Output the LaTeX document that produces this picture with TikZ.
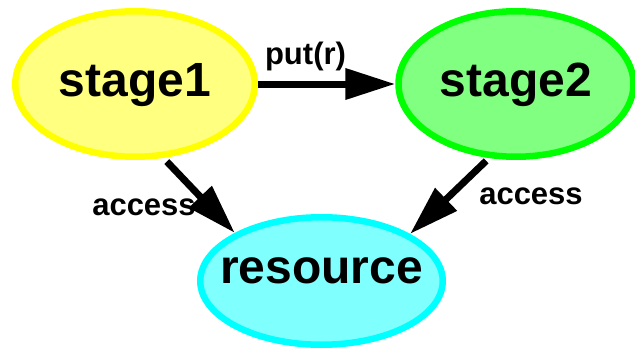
\documentclass[tikz,border=0pt]{standalone}
\usepackage{fontspec}
\setmainfont{Liberation Sans}
\usetikzlibrary{shapes.geometric,arrows.meta}
\definecolor{yfill}{RGB}{255,255,128}
\definecolor{yline}{RGB}{255,255,0}
\definecolor{gfill}{RGB}{128,255,128}
\definecolor{gline}{RGB}{0,255,0}
\definecolor{cfill}{RGB}{128,255,255}
\definecolor{cline}{RGB}{0,255,255}
\begin{document}
\begin{tikzpicture}[x=1pt,y=1pt,
  statenode/.style={ellipse, line width=6.5pt, inner sep=0pt,
    font=\fontsize{48}{48}\selectfont\bfseries, text height=34pt, text depth=10pt},
  edgelabel/.style={anchor=base, inner sep=0pt, font=\fontsize{31}{31}\selectfont\bfseries},
  arr/.style={line width=7pt, -{Triangle[length=50pt,width=30pt]}}]
\useasboundingbox (0,0) rectangle (635,349);
\node[statenode, draw=yline, fill=yfill, minimum width=239.5pt, minimum height=145.5pt] (s1) at (135,265) {\makebox[0pt]{stage1}};
\node[statenode, draw=gline, fill=gfill, minimum width=235pt, minimum height=145.5pt] (s2) at (516,265) {\makebox[0pt]{stage2}};
\node[statenode, draw=cline, fill=cfill, minimum width=242.5pt, minimum height=127.5pt] (res) at (321.5,68) {\makebox[0pt]{\raisebox{10pt}{resource}}};
\draw[arr] (s1) -- (s2);
\draw[arr, shorten <=5pt] (s1.-69) -- (res.151.7);
\draw[arr, shorten <=4pt] (s2.-110.4) -- (res.28);
\node[edgelabel] (lput) at (305.5,284) {put(r)};
\node[edgelabel] (lacc1) at (144,134) {access};
\node[edgelabel] (lacc2) at (531,145) {access};
\end{tikzpicture}
\end{document}
